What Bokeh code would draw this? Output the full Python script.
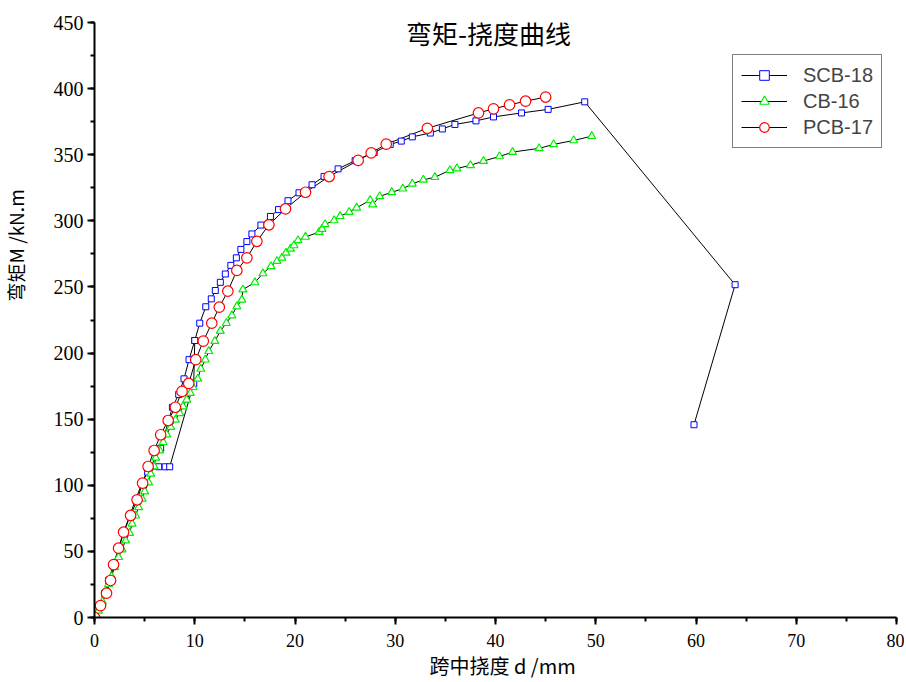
from bokeh.plotting import figure
from bokeh.models import Range1d, Label, Legend, LegendItem, SingleIntervalTicker, Title
from bokeh.embed import file_html
from bokeh.resources import INLINE

# SCB-18 (blue squares)
scb_x = [0, 0.5, 1.0, 1.4, 1.9, 2.4, 2.9, 3.5, 4.1, 4.7, 5.3, 6.4, 7.05, 7.5, 9.9,
         10.0, 10.5, 11.1, 11.65, 12.05, 12.55, 13.05, 13.6, 14.15, 14.6, 15.2, 15.7,
         16.6, 17.55, 18.35, 19.3, 20.4, 21.7, 22.9, 24.3, 26.0, 27.9, 29.5, 30.6,
         31.7, 33.5, 34.7, 35.95, 38.05, 39.8, 42.6, 45.25, 48.9, 63.9, 59.8]
scb_y = [0, 9, 18, 28, 40, 52, 64, 77, 89, 101, 110, 114, 114, 114, 177,
         209.5, 222.6, 235, 241, 247.3, 253.5, 259.8, 266.3, 272, 278.4, 284.3, 290.1,
         296.8, 303.3, 308.5, 315.2, 321.2, 327.3, 333.6, 339.3, 345.5, 351.7, 357.8, 360.3,
         363.5, 366.4, 369.5, 372.9, 375.6, 378.6, 381.6, 384.3, 390, 251.7, 145.8]
# SCB-18 points on the left branch
scb2_x = [6.6, 7.77, 8.4, 8.93, 9.43, 10.0]
scb2_y = [128, 159, 168.7, 180.5, 195, 209.5]

# CB-16 (green triangles)
cb_x = [0, 0.4, 0.8, 1.1, 1.4, 1.7, 2.0, 2.4, 2.75, 3.1, 3.5, 3.75, 4.1, 4.4, 4.75, 5.0,
        5.4, 5.6, 5.95, 6.1, 6.5, 6.85, 7.2, 7.6, 8.07, 8.5, 8.83, 9.2, 9.56, 9.83, 10.3,
        10.6, 11.05, 11.4, 12.0, 12.55, 13.15, 13.7, 14.2, 14.7, 14.8, 16.0, 16.8, 17.6,
        18.2, 18.7, 19.1, 19.55, 19.9, 20.3, 21.05, 22.4, 22.7, 23.0, 23.9, 24.5, 25.4,
        26.15, 27.5, 27.75, 28.45, 29.65, 30.75, 31.7, 32.8, 33.95, 35.45, 36.15, 37.5,
        38.8, 40.4, 41.7, 44.35, 45.8, 47.8, 49.6]
cb_y = [0, 5, 12, 18, 25, 31, 38, 45.6, 51.4, 58.2, 63.8, 70.9, 77, 83.4, 89.8, 95.3,
        102, 108.7, 114.2, 120.8, 126.3, 132.6, 138.4, 144, 149.5, 154.5, 159.6, 164.7,
        169.7, 174.2, 180.5, 188, 195, 201.4, 209, 216.6, 222.6, 228.4, 235.2, 240.3, 248,
        253.4, 260.2, 265.6, 269.5, 272, 275.8, 278.8, 281.4, 285.2, 287.8, 291.5, 293.8,
        297.3, 300.3, 303.5, 306.6, 309.9, 315.6, 312.3, 318.5, 321.6, 324.3, 328, 331,
        333, 338.2, 339.6, 342, 345.2, 348.7, 352, 354.8, 357.8, 360.8, 364]

# PCB-17 (red circles)
pcb_x = [0, 0.6, 1.2, 1.6, 1.9, 2.4, 2.9, 3.6, 4.25, 4.8, 5.35, 5.95, 6.6, 7.35, 8.07,
         8.73, 9.4, 10.1, 10.85, 11.7, 12.45, 13.3, 14.2, 15.2, 16.2, 17.4, 19.05, 21.05,
         23.4, 26.3, 27.6, 29.1, 33.2, 38.3, 39.8, 41.4, 43.0, 45.0]
pcb_y = [0, 9, 18.4, 28, 40, 52.4, 64.5, 77.2, 89, 101.6, 114.2, 126.3, 138.2, 149, 159,
         171, 177, 195, 209, 222.6, 234.7, 246.8, 262.5, 272, 284.5, 297, 309, 321.6,
         333.5, 345.7, 351.4, 358, 370, 381.6, 384.7, 387.7, 390.5, 393.6]

series_names = ["SCB-18", "CB-16", "PCB-17"]
title_text = "弯矩-挠度曲线"
x_title = "跨中挠度 d /mm"
y_title = "弯矩M /kN.m"

W, H = 904, 680
FL, FT, FR, FB = 93, 22, 896, 617
p = figure(width=W, height=H, output_backend="svg", toolbar_location=None,
           x_range=Range1d(0, 80), y_range=Range1d(0, 450),
           min_border_left=FL, min_border_right=W - FR,
           min_border_top=FT, min_border_bottom=H - FB)
p.outline_line_color = None
p.grid.visible = False
p.background_fill_color = "white"

for ax in (p.xaxis[0], p.yaxis[0]):
    ax.axis_line_width = 2
    ax.axis_line_color = "black"
    ax.major_tick_line_width = 2
    ax.minor_tick_line_width = 2
    ax.major_tick_out = 7
    ax.major_tick_in = 0
    ax.minor_tick_out = 4
    ax.minor_tick_in = 0
    ax.major_label_text_font = "Liberation Serif"
    ax.major_label_text_color = "black"
p.xaxis[0].major_label_text_font_size = "18px"
p.yaxis[0].major_label_text_font_size = "20px"
p.xaxis[0].ticker = SingleIntervalTicker(interval=10, num_minor_ticks=2)
p.yaxis[0].ticker = SingleIntervalTicker(interval=50, num_minor_ticks=2)
p.xaxis[0].major_label_standoff = 9
p.yaxis[0].major_label_standoff = 4
# invisible spacer label pushes the y title further out
p.yaxis[0].axis_label = " "
p.yaxis[0].axis_label_text_font_size = "1px"
p.yaxis[0].axis_label_standoff = 17

# lines
l1 = p.line(scb_x, scb_y, line_color="black", line_width=1)
l1b = p.line([scb_x[10]] + scb2_x, [scb_y[10]] + scb2_y, line_color="black", line_width=1)
l2 = p.line(cb_x, cb_y, line_color="black", line_width=1)
l3 = p.line(pcb_x, pcb_y, line_color="black", line_width=1)

m1 = p.scatter(scb_x, scb_y, marker="square", size=6, line_color="blue", fill_color="white", line_width=1)
m1b = p.scatter(scb2_x, scb2_y, marker="square", size=6, line_color="blue", fill_color="white", line_width=1)
m2 = p.scatter(cb_x, cb_y, marker="triangle", size=8, line_color="#00ee00", fill_color="white", line_width=1.2)
m3 = p.scatter(pcb_x, pcb_y, marker="circle", size=10.5, line_color="red", fill_color="white", line_width=1.2)

legend = Legend(items=[LegendItem(label=series_names[0], renderers=[l1, m1]),
                       LegendItem(label=series_names[1], renderers=[l2, m2]),
                       LegendItem(label=series_names[2], renderers=[l3, m3])],
                location=(638, 469), orientation="vertical")
legend.border_line_color = "black"
legend.border_line_width = 1
legend.background_fill_alpha = 1
legend.label_text_font = "Liberation Sans"
legend.label_text_font_size = "20px"
legend.glyph_width = 46
legend.glyph_height = 24
legend.label_height = 24
legend.label_standoff = 16
legend.spacing = 2
legend.padding = 8
legend.margin = 0
p.add_layout(legend)

# chart title inside the frame
p.add_layout(Label(x=394, y=FB - 32, x_units="screen", y_units="screen", text=title_text,
                   text_font="Noto Sans CJK SC", text_font_size="26px",
                   text_align="center", text_baseline="middle", text_color="black"))

# axis titles
ty = Title(text=y_title, align="left", offset=FB - 301, vertical_align="middle", standoff=0,
           text_font="Noto Sans CJK SC", text_font_size="19px", text_font_style="normal",
           text_color="black")
p.add_layout(ty, "left")
tx = Title(text=x_title, align="left", offset=428 - FL, vertical_align="middle", standoff=0,
           text_font="Noto Sans CJK SC", text_font_size="20px", text_font_style="normal",
           text_color="black")
p.add_layout(tx, "below")

open("out.html", "w").write(file_html(p, INLINE))
